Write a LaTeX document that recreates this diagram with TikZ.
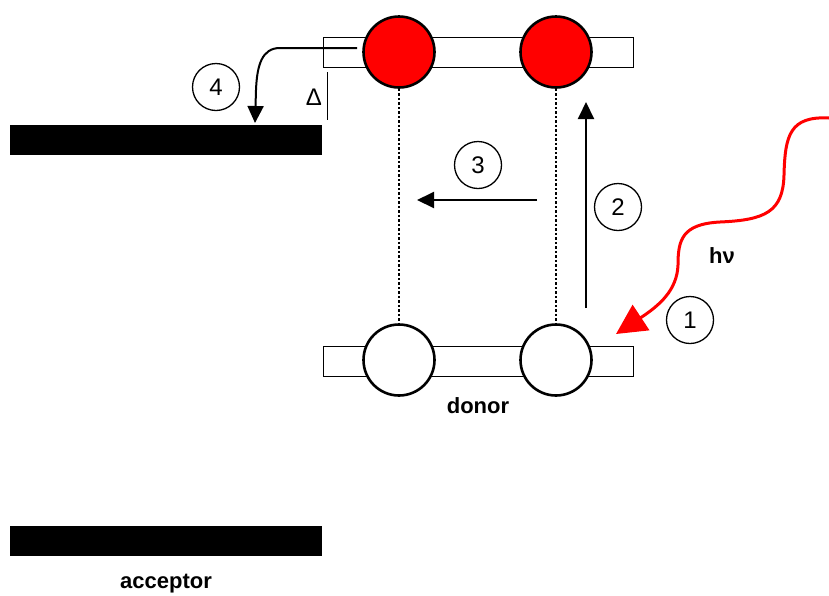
\documentclass[tikz,border=0pt]{standalone}
\usepackage{fontspec}
\setmainfont{Liberation Sans}
\usetikzlibrary{arrows.meta}
\begin{document}
\begin{tikzpicture}[x=1pt,y=-1pt,
  bar/.style={draw=black,line width=0.7pt,fill=white},
  band/.style={fill=black},
  filled/.style={circle,draw=black,line width=2.6pt,fill=red,minimum size=71pt,inner sep=0pt},
  empty/.style={circle,draw=black,line width=2.6pt,fill=white,minimum size=71pt,inner sep=0pt},
  num/.style={circle,draw=black,line width=1.3pt,minimum size=47pt,inner sep=0pt,font=\fontsize{24}{26}\selectfont},
  lbl/.style={font=\bfseries\fontsize{22}{24}\selectfont},
  arr/.style={line width=2pt,-{Triangle[length=17pt,width=16pt]}},
  dots/.style={line width=1.3pt,dash pattern=on 2.5pt off 2pt}]
\useasboundingbox (0,0) rectangle (829,595);
% donor bars
\draw[bar] (323,37) rectangle (633,67);
\draw[bar] (323,346) rectangle (633,376);
% acceptor bands
\fill[band] (10,125) rectangle (322,155);
\fill[band] (10,526) rectangle (322,556);
% circles
\node[filled] (r1) at (399,52) {};
\node[filled] (r2) at (556,52) {};
\node[empty] (w1) at (399,360) {};
\node[empty] (w2) at (556,360) {};
\draw[dots] (r1.south) -- (w1.north);
\draw[dots] (r2.south) -- (w2.north);
% labels
\node[lbl] (don) at (478,406) {donor};
\node[lbl] (acc) at (166,584) {acceptor};
\node[lbl] (hv) at (722,256) {hν};
\node[font=\fontsize{24}{26}\selectfont] (delta) at (314,97) {Δ};
\coordinate (dtop) at (327,72);
\coordinate (dbot) at (327,120);
\draw[line width=0.9pt] (dtop) -- (dbot);
% numbered circles
\node[num] (n1) at (690,320) {1};
\node[num] (n2) at (618,207) {2};
\node[num] (n3) at (478,165) {3};
\node[num] (n4) at (216,87) {4};
% arrow 2
\coordinate (a2s) at (586,308);
\coordinate (a2e) at (586,102);
\draw[arr] (a2s) -- (a2e);
% arrow 3
\coordinate (a3s) at (537,200);
\coordinate (a3e) at (417,200);
\draw[arr] (a3s) -- (a3e);
% arrow 4
\coordinate (a4s) at (357,48);
\coordinate (a4e) at (255,123);
\draw[arr] (a4s) -- (280,48) .. controls (262,48) and (257,65) .. (256,90) -- (a4e);
% photon
\coordinate (ps) at (829,118);
\coordinate (pe) at (616,334);
\draw[red,line width=3pt,-{Triangle[length=30pt,width=30pt]}] (ps)
  .. controls (790,116) and (785,135) .. (784,175)
  .. controls (783,212) and (765,220) .. (720,222)
  .. controls (682,224) and (678,240) .. (678,265)
  .. controls (677,290) and (660,305) .. (pe);
\end{tikzpicture}
\end{document}
